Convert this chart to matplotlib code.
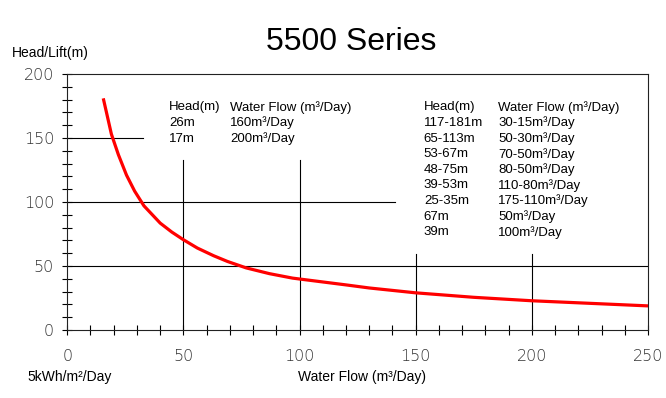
import matplotlib.pyplot as plt
from matplotlib.ticker import MultipleLocator

# pump curve
flow = [15.5, 17, 19, 22, 25.5, 29, 33, 40, 45, 50, 56, 63, 69, 77, 87, 97,
        110, 120, 130, 150, 175, 200, 225, 250]
head = [181, 169, 153, 137, 121, 108.5, 97, 83.5, 76.5, 70.5, 64, 58, 53.5, 48.5, 44, 40.5,
        37.5, 35.2, 32.8, 29, 25.5, 22.8, 20.8, 18.8]

# partial grid lines: (level, start, end)
hlines = [(150, 0, 32.5), (100, 0, 141), (50, 0, 250)]
vlines = [(50, 0, 133), (100, 0, 133), (150, 0, 59), (200, 0, 59)]

left_head = ["Head(m)", "26m", "17m"]
left_flow = ["Water Flow (m³/Day)", "160m³/Day", "200m³/Day"]
right_head = ["Head(m)", "117-181m", "65-113m", "53-67m", "48-75m", "39-53m",
              "25-35m", "67m", "39m"]
right_flow = ["Water Flow (m³/Day)", "30-15m³/Day", "50-30m³/Day", "70-50m³/Day",
              "80-50m³/Day", "110-80m³/Day", "175-110m³/Day", "50m³/Day", "100m³/Day"]

plt.rcParams['font.family'] = ['Liberation Sans', 'DejaVu Sans']

fig = plt.figure(figsize=(6.66, 3.98), dpi=100)
ax = fig.add_axes([0.101, 0.171, 0.872, 0.643])

for lvl, a, b in hlines:
    ax.plot([a, b], [lvl, lvl], color='black', lw=0.8)
for lvl, a, b in vlines:
    ax.plot([lvl, lvl], [a, b], color='black', lw=0.8)

ax.plot(flow, head, color='#ff0000', lw=2.3, solid_capstyle='butt', solid_joinstyle='round')

ax.set_xlim(0, 250)
ax.set_ylim(0, 200)
ax.xaxis.set_major_locator(MultipleLocator(50))
ax.xaxis.set_minor_locator(MultipleLocator(10))
ax.yaxis.set_major_locator(MultipleLocator(50))
ax.yaxis.set_minor_locator(MultipleLocator(10))
ax.tick_params(which='both', direction='inout', length=7, width=0.8, color='black')
ax.tick_params(axis='x', which='major', pad=10, labelsize=11.5, labelcolor='#333333')
ax.tick_params(axis='y', which='major', pad=6, labelsize=11.5, labelcolor='#333333')
for lab in ax.get_xticklabels() + ax.get_yticklabels():
    lab.set_family('DejaVu Sans')
    lab.set_fontweight('light')
for s in ax.spines.values():
    s.set_linewidth(0.8)
    s.set_color('#222222')

# tables
dy = 12.2
for i, t in enumerate(left_head):
    ax.text(43.8, 174 - i * dy, t, fontsize=9.5, va='center', ha='left')
for i, t in enumerate(left_flow):
    ax.text(70, 174 - i * dy, t, fontsize=9.5, va='center', ha='left')
for i, t in enumerate(right_head):
    ax.text(153.5, 174 - i * dy, t, fontsize=9.5, va='center', ha='left')
for i, t in enumerate(right_flow):
    ax.text(185.5, 174 - i * dy, t, fontsize=9.5, va='center', ha='left')

fig.text(351 / 666, 1 - 42 / 398, "5500 Series", fontsize=23, ha='center', va='center')
fig.text(12 / 666, 1 - 53 / 398, "Head/Lift(m)", fontsize=10, ha='left', va='center')
fig.text(27 / 666, 1 - 377 / 398, "5kWh/m²/Day", fontsize=10, ha='left', va='center')
fig.text(362 / 666, 1 - 377 / 398, "Water Flow (m³/Day)", fontsize=10, ha='center', va='center')

fig.savefig("out.png", dpi=100)
